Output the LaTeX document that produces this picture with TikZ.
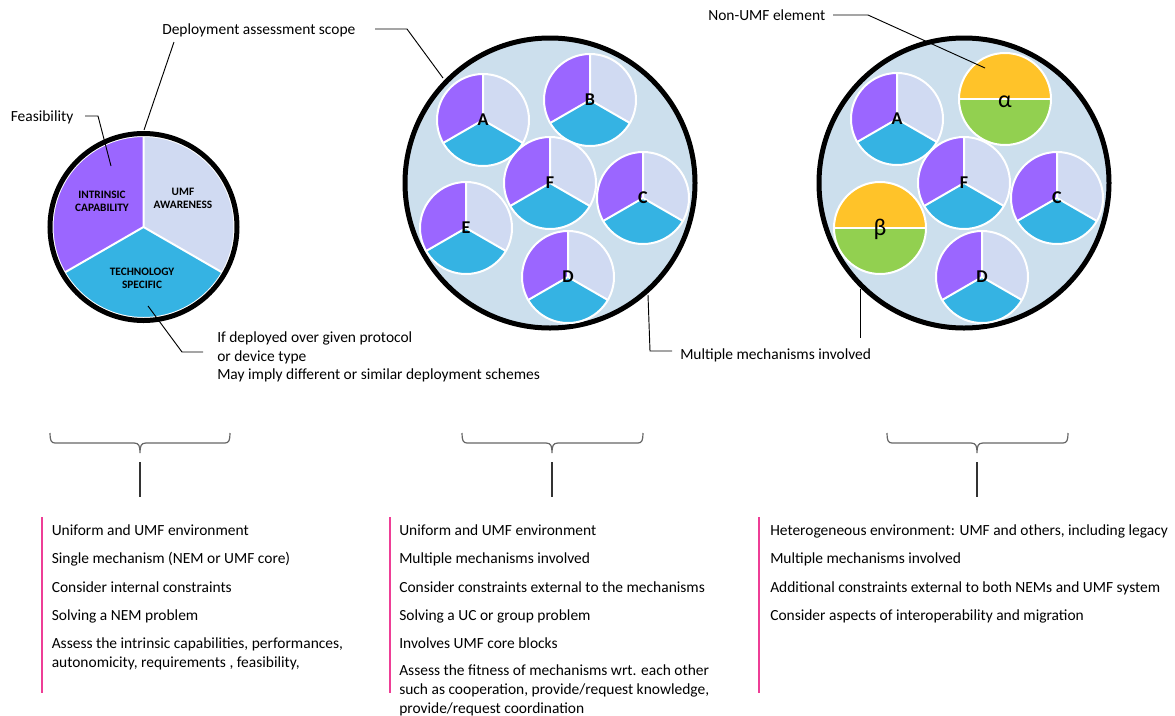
\documentclass[tikz,border=0pt]{standalone}
\usepackage{fontspec}
\setmainfont{Carlito}
\definecolor{pur}{HTML}{9B66FF}
\definecolor{lav}{HTML}{D0DAF2}
\definecolor{cyanb}{HTML}{35B3E3}
\definecolor{bgc}{HTML}{CCDFED}
\definecolor{yel}{HTML}{FFC329}
\definecolor{grn}{HTML}{92D050}
\definecolor{pnk}{HTML}{EE3E96}
\tikzset{
  txt/.style={font=\fontsize{11.6}{13}\selectfont, inner sep=0pt, anchor=base west},
  pielbl/.style={font=\fontsize{8.5}{9.6}\selectfont\bfseries, align=center, inner sep=0pt},
  letter/.style={font=\fontsize{13.5}{14}\selectfont\bfseries, inner sep=0pt},
  greek/.style={font=\fontsize{18}{19}\selectfont, inner sep=0pt},
  leader/.style={black, line width=0.7pt},
  ring/.style={draw=black, line width=3.75pt},
  bracestyle/.style={draw=black!60, line width=0.9pt},
  tickline/.style={black!80, line width=0.8pt},
  pinkbar/.style={draw=pnk, line width=1.1pt},
}
\newcommand\umfpie[3]{%
  \begin{scope}[shift={(#1,-#2)}]
    \fill[lav] (0,0) -- (90:#3) arc[start angle=90,end angle=-30,radius=#3] -- cycle;
    \fill[cyanb] (0,0) -- (-30:#3) arc[start angle=-30,end angle=-150,radius=#3] -- cycle;
    \fill[pur] (0,0) -- (-150:#3) arc[start angle=-150,end angle=-270,radius=#3] -- cycle;
    \draw[white,line width=1.5pt] (0,0) -- (90:#3) (0,0) -- (-30:#3) (0,0) -- (-150:#3);
    \draw[white,line width=1.5pt] (0,0) circle[radius=#3];
  \end{scope}}
\newcommand\halfpie[3]{%
  \begin{scope}[shift={(#1,-#2)}]
    \fill[yel] (0:#3) arc[start angle=0,end angle=180,radius=#3] -- cycle;
    \fill[grn] (180:#3) arc[start angle=180,end angle=360,radius=#3] -- cycle;
    \draw[white,line width=1.5pt] (180:#3) -- (0:#3);
    \draw[white,line width=1.5pt] (0,0) circle[radius=#3];
  \end{scope}}
\newcommand\flatbrace[3]{% left x, middle x, right x
  \draw[bracestyle] (#1,-433) .. controls (#1,-440) and (#1+1,-443) .. (#1+5,-443)
    -- (#2-6,-443) .. controls (#2-1,-443) and (#2,-446) .. (#2,-453)
    .. controls (#2,-446) and (#2+1,-443) .. (#2+6,-443)
    -- (#3-5,-443) .. controls (#3-1,-443) and (#3,-440) .. (#3,-433);}
\begin{document}
\begin{tikzpicture}[x=0.75pt,y=0.75pt]
\useasboundingbox (0,0) rectangle (1175,-715);

% ---------- left pie ----------
\umfpie{143.5}{227}{91}
\draw[ring] (143.5,-227) circle[radius=93.5];
\node[pielbl] (intr) at (102,-201) {INTRINSIC\\CAPABILITY};
\node[pielbl] (aware) at (183,-198) {UMF\\AWARENESS};
\node[pielbl] (tech) at (142,-278) {TECHNOLOGY\\SPECIFIC};

% ---------- middle group ----------
\draw[ring, fill=bgc] (550,-183) circle[radius=145];
\umfpie{483}{120}{46}
\umfpie{590}{100}{46}
\umfpie{643}{198}{46}
\umfpie{466}{228}{46}
\umfpie{568}{277}{46}
\umfpie{550}{183}{46}
\node[letter] (mA) at (483,-120) {A};
\node[letter] (mB) at (590,-100) {B};
\node[letter] (mC) at (643,-198) {C};
\node[letter] (mE) at (466,-228) {E};
\node[letter] (mD) at (568,-277) {D};
\node[letter] (mF) at (550,-183) {F};

% ---------- right group ----------
\draw[ring, fill=bgc] (964,-183) circle[radius=145];
\umfpie{897}{119}{46}
\halfpie{1005}{99}{46}
\umfpie{1057}{198}{46}
\halfpie{880}{228}{46}
\umfpie{982}{277}{46}
\umfpie{964}{183}{46}
\node[letter] (rA) at (897,-119) {A};
\node[greek] (ralpha) at (1005,-102) {α};
\node[letter] (rC) at (1057,-198) {C};
\node[greek] (rbeta) at (880,-229) {β};
\node[letter] (rD) at (982,-277) {D};
\node[letter] (rF) at (964,-183) {F};

% ---------- annotations ----------
\node[txt] (feas) at (10.5,-121.5) {Feasibility};
\coordinate (feasA) at (85,-116);
\coordinate (feasB) at (98,-116);
\coordinate (feasC) at (111,-166);
\draw[leader] (feasA) -- (feasB) -- (feasC);

\node[txt] (scope) at (162,-34.5) {Deployment assessment scope};
\coordinate (scA) at (375,-29);
\coordinate (scB) at (407,-29);
\coordinate (scC) at (443,-78);
\draw[leader] (scA) -- (scB) -- (scC);
\coordinate (scD) at (174,-42);
\coordinate (scE) at (144,-130);
\draw[leader] (scD) -- (scE);

\node[txt] (nonumf) at (708,-20.5) {Non-UMF element};
\coordinate (nuA) at (833,-15);
\coordinate (nuB) at (868,-15);
\coordinate (nuC) at (985,-68);
\draw[leader] (nuA) -- (nuB) -- (nuC);

\node[txt] (dep1) at (217,-342.5) {If deployed over given protocol};
\node[txt] (dep2) at (217,-361) {or device type};
\node[txt] (dep3) at (217,-379.5) {May imply different or similar deployment schemes};
\coordinate (dpA) at (148,-306);
\coordinate (dpB) at (182,-352);
\coordinate (dpC) at (203,-352);
\draw[leader] (dpA) -- (dpB) -- (dpC);

\node[txt] (multi) at (680,-359) {Multiple mechanisms involved};
\coordinate (muA) at (648,-295);
\coordinate (muB) at (650,-351);
\coordinate (muC) at (672,-351);
\draw[leader] (muA) -- (muB) -- (muC);
\coordinate (muD) at (860,-289);
\coordinate (muE) at (860,-338);
\draw[leader] (muD) -- (muE);

% ---------- braces ----------
\flatbrace{50}{140}{230}
\flatbrace{462}{552}{643}
\flatbrace{887}{977}{1068}
\coordinate (t1a) at (140,-462); \coordinate (t1b) at (140,-497);
\coordinate (t2a) at (552,-462); \coordinate (t2b) at (552,-497);
\coordinate (t3a) at (977,-462); \coordinate (t3b) at (977,-497);
\draw[tickline] (t1a) -- (t1b);
\draw[tickline] (t2a) -- (t2b);
\draw[tickline] (t3a) -- (t3b);

% ---------- pink bars ----------
\coordinate (p1a) at (42,-517); \coordinate (p1b) at (42,-693);
\coordinate (p2a) at (390,-517); \coordinate (p2b) at (390,-693);
\coordinate (p3a) at (759,-517); \coordinate (p3b) at (759,-693);
\draw[pinkbar] (p1a) -- (p1b);
\draw[pinkbar] (p2a) -- (p2b);
\draw[pinkbar] (p3a) -- (p3b);

% ---------- left column ----------
\node[txt] (l1) at (51.5,-535) {Uniform and UMF environment};
\node[txt] (l2) at (51.5,-563) {Single mechanism (NEM or UMF core)};
\node[txt] (l3) at (51.5,-592) {Consider internal constraints};
\node[txt] (l4) at (51.5,-620) {Solving a NEM problem};
\node[txt] (l5) at (51.5,-648) {Assess the intrinsic capabilities, performances,};
\node[txt] (l6) at (51.5,-667.5) {autonomicity, requirements , feasibility,};

% ---------- middle column ----------
\node[txt] (c1) at (399,-535) {Uniform and UMF environment};
\node[txt] (c2) at (399,-563) {Multiple mechanisms involved};
\node[txt] (c3) at (399,-592) {Consider constraints external to the mechanisms};
\node[txt] (c4) at (399,-620) {Solving a UC or group problem};
\node[txt] (c5) at (399,-648) {Involves UMF core blocks};
\node[txt] (c6) at (399,-675.5) {Assess the fitness of mechanisms wrt. each other};
\node[txt] (c7) at (399,-694) {such as cooperation, provide/request knowledge,};
\node[txt] (c8) at (399,-713) {provide/request coordination};

% ---------- right column ----------
\node[txt] (r1) at (770,-535) {Heterogeneous environment: UMF and others, including legacy};
\node[txt] (r2) at (770,-563) {Multiple mechanisms involved};
\node[txt] (r3) at (770,-592) {Additional constraints external to both NEMs and UMF system};
\node[txt] (r4) at (770,-620) {Consider aspects of interoperability and migration};
\end{tikzpicture}
\end{document}
